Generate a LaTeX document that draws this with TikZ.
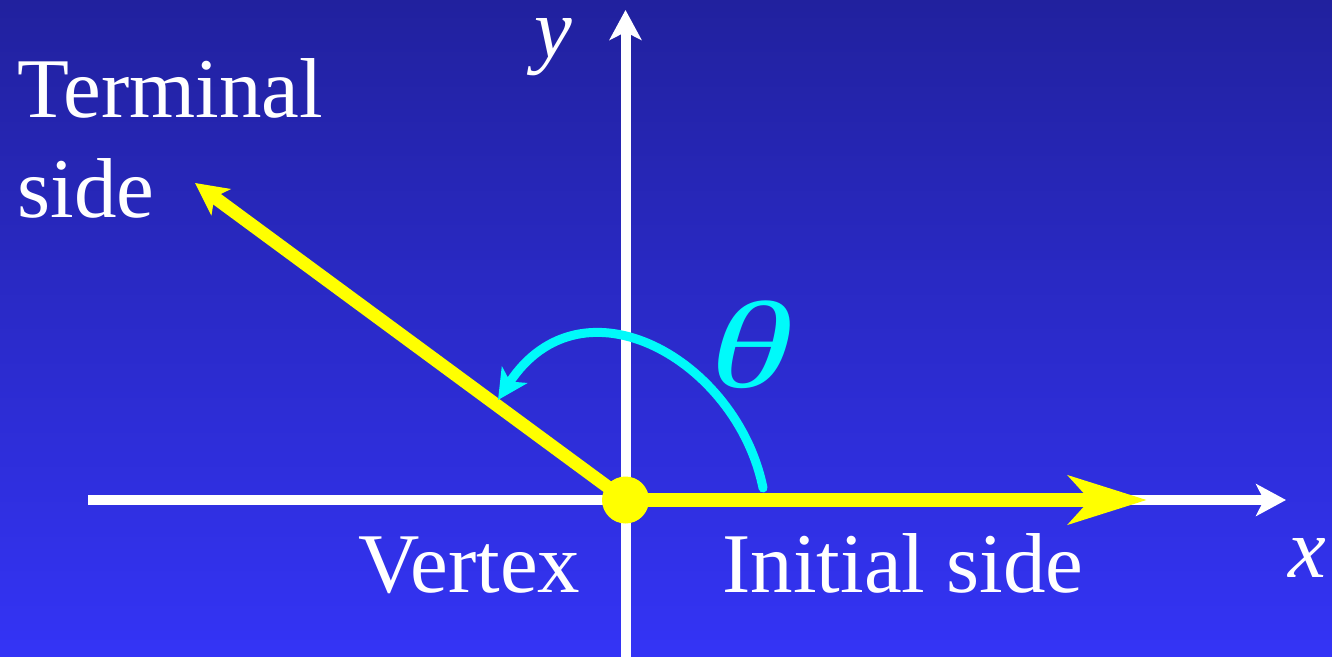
\documentclass[tikz,border=0pt]{standalone}
\usepackage{fontspec}
\setmainfont{Liberation Serif}
\usetikzlibrary{arrows.meta}
\definecolor{bgtop}{RGB}{33,33,158}
\definecolor{bgbot}{RGB}{52,52,246}
\definecolor{myyellow}{RGB}{255,255,0}
\definecolor{mycyan}{RGB}{0,250,250}
\tikzset{
  axis/.style={draw=white, line width=5pt, -{Stealth[length=15pt, width=16pt, inset=4pt]}},
  sideline/.style={draw=myyellow, line width=6.5pt},
  lbl/.style={text=white, inner sep=0pt, anchor=base west, font=\fontsize{42.5}{50}\selectfont},
}
\begin{document}
\begin{tikzpicture}[x=0.5pt, y=-0.5pt]
\shade[top color=bgtop, bottom color=bgbot] (0,0) rectangle (1332,657);
\useasboundingbox (0,0) rectangle (1332,657);
% coordinates
\coordinate (O) at (625.5,500);
\coordinate (xL) at (88,500);
\coordinate (xR) at (1286,500);
\coordinate (yB) at (625.5,660);
\coordinate (yT) at (625.5,10);
\coordinate (termTip) at (195,183);
\coordinate (initTip) at (1147,500);
\coordinate (arcS) at (763,488);
\coordinate (arcE) at (498,400);
% axes
\draw[axis] (xL) -- (xR);
\draw[axis] (yB) -- (yT);
% sides
\draw[sideline, line width=7pt, -{Stealth[length=39pt, width=24pt, inset=10.5pt]}] (O) -- (initTip);
\draw[sideline, -{Stealth[length=16pt, width=16pt, inset=4pt]}] (O) -- (termTip);
\node[circle, fill=myyellow, minimum size=23.5pt, inner sep=0pt] (vertex) at (O) {};
% angle arc
\draw[mycyan, line width=4.5pt, line cap=round, -{Stealth[length=15pt, width=15pt, inset=4pt]}]
  (arcS) .. controls (737,360) and (582,272) .. (arcE);
% labels
\node[lbl] (term1) at (17,118) {Terminal};
\node[lbl] (term2) at (17,218) {side};
\node[lbl] (vtx) at (358,592) {Vertex};
\node[lbl] (init) at (722,592) {Initial side};
\node[lbl] (xl) at (1288,577) {\itshape x};
\node[lbl, text height=20pt] (yl) at (534,58) {\itshape y};
\node[text=mycyan, inner sep=0pt, anchor=base west, xslant=0.27, transform shape,
      font=\fontsize{62}{70}\selectfont] (theta) at (702,387) {\scalebox{1.35}[1]{θ}};
\end{tikzpicture}
\end{document}
